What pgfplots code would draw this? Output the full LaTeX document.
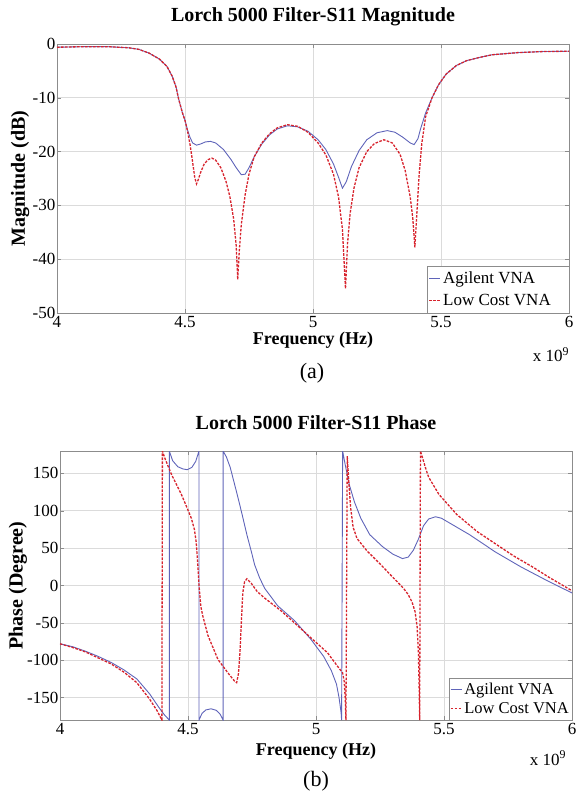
\documentclass[border=0pt]{standalone}
\usepackage{fontspec}
\setmainfont{Liberation Serif}
\usepackage{pgfplots}
\pgfplotsset{compat=1.18}
\definecolor{agil}{RGB}{95,100,185}
\definecolor{lowc}{RGB}{215,35,45}
\pgfplotsset{
  mystyle/.style={
    scale only axis, width=512pt, height=269pt,
    xmin=4, xmax=6,
    xtick={4,4.5,5,5.5,6},
    grid=major, major grid style={draw=black!14, line width=0.6pt},
    axis line style={draw=black!45, line width=0.7pt},
    tick style={draw=black!45},
    tick align=inside, major tick length=4pt,
    ticklabel style={font=\fontsize{17}{20}\selectfont, text=black},
    yticklabel style={inner xsep=1.5pt},
    /pgf/number format/assume math mode=true,
    xlabel style={font=\bfseries\fontsize{18}{21}\selectfont},
    ylabel style={font=\bfseries\fontsize{20}{23}\selectfont},
    title style={font=\bfseries\fontsize{20}{24}\selectfont, at={(axis description cs:0.5,1)}, anchor=center},
    legend style={at={(1,0)}, anchor=south east, draw=black!45, fill=white,
      font=\fontsize{17}{20}\selectfont, inner xsep=2pt,
      cells={anchor=west}},
    legend cell align=left,
    legend image code/.code={\draw[#1] (0pt,0pt) -- (11pt,0pt);},
  },
  agstyle/.style={color=agil, line width=0.9pt},
  lcstyle/.style={color=lowc, line width=1.3pt, dash pattern=on 2.6pt off 1.4pt},
}
\begin{document}
\begin{tikzpicture}
\useasboundingbox (0,0) rectangle (576pt,793pt);
% ---------------- (a) magnitude ----------------
\begin{axis}[mystyle, at={(57pt,480pt)}, anchor=south west,
  ymin=-50, ymax=0, ytick={-50,-40,-30,-20,-10,0},
  title={Lorch 5000 Filter-S11 Magnitude}, title style={yshift=21pt},
  xlabel={Frequency (Hz)}, xlabel style={at={(axis description cs:0.5,0)}, anchor=center, yshift=-27pt},
  ylabel={Magnitude (dB)}, ylabel style={at={(axis description cs:-0.072,0.5)}, anchor=center},
  legend style={inner ysep=4pt, row sep=5pt},
  extra description/.code={
    \node[font=\fontsize{17}{20}\selectfont, anchor=center] at (0.965,-0.156) {x 10\textsuperscript{9}};
    \node[font=\fontsize{22}{26}\selectfont, anchor=center] at (0.498,-0.223) {(a)};
  },
]
\addplot[agstyle] coordinates {
(4.00,-0.6) (4.10,-0.5) (4.20,-0.5) (4.28,-0.7) (4.32,-1.0) (4.36,-1.7) (4.40,-2.8)
(4.43,-4.2) (4.45,-6.0) (4.465,-8.0) (4.475,-10.2) (4.49,-12.8) (4.50,-14.2)
(4.51,-16.0) (4.52,-17.4) (4.53,-18.4) (4.545,-18.8) (4.56,-18.6) (4.58,-18.2)
(4.60,-18.1) (4.62,-18.4) (4.65,-19.6) (4.68,-21.5) (4.70,-23.0) (4.72,-24.3)
(4.735,-24.2) (4.75,-23.0) (4.77,-21.0) (4.80,-18.6) (4.83,-16.9) (4.86,-15.8)
(4.90,-15.2) (4.94,-15.4) (4.98,-16.2) (5.02,-17.8) (5.05,-19.6) (5.08,-22.3)
(5.10,-24.8) (5.115,-26.8) (5.13,-25.6) (5.15,-22.8) (5.18,-19.8) (5.21,-17.8)
(5.25,-16.5) (5.29,-16.1) (5.32,-16.4) (5.35,-17.3) (5.38,-18.4) (5.395,-18.7)
(5.41,-17.6) (5.42,-15.8) (5.44,-12.8) (5.465,-10.0) (5.49,-7.6) (5.52,-5.6)
(5.56,-4.0) (5.60,-3.1) (5.65,-2.5) (5.70,-2.0) (5.80,-1.6) (5.90,-1.4) (6.00,-1.35)
};
\addlegendentry{Agilent VNA}
\addplot[lcstyle] coordinates {
(4.00,-0.6) (4.10,-0.5) (4.20,-0.5) (4.28,-0.7) (4.32,-1.0) (4.36,-1.7) (4.40,-2.8)
(4.43,-4.2) (4.45,-6.0) (4.465,-8.0) (4.475,-10.2) (4.49,-12.8) (4.50,-14.2)
(4.51,-16.2) (4.52,-18.8) (4.53,-22.0) (4.538,-24.8) (4.545,-26.0) (4.552,-25.2)
(4.56,-24.0) (4.575,-22.3) (4.59,-21.5) (4.605,-21.2) (4.62,-21.6) (4.64,-23.0)
(4.66,-25.5) (4.675,-28.3) (4.69,-32.5) (4.70,-37.5) (4.706,-43.8) (4.712,-38.5)
(4.72,-33.5) (4.735,-28.0) (4.75,-24.2) (4.77,-21.0) (4.80,-18.4) (4.83,-16.7)
(4.86,-15.6) (4.90,-15.0) (4.94,-15.3) (4.98,-16.4) (5.02,-18.4) (5.05,-20.6)
(5.08,-24.2) (5.10,-28.5) (5.115,-34.5) (5.127,-45.5) (5.135,-37.0) (5.145,-31.5)
(5.16,-26.8) (5.18,-23.0) (5.21,-20.0) (5.24,-18.5) (5.277,-17.8) (5.31,-18.4)
(5.34,-20.5) (5.36,-23.5) (5.38,-28.5) (5.39,-32.5) (5.398,-37.8) (5.405,-32.0)
(5.415,-24.0) (5.425,-18.5) (5.44,-13.5) (5.465,-10.0) (5.49,-7.6) (5.52,-5.6)
(5.56,-4.0) (5.60,-3.1) (5.65,-2.5) (5.70,-2.0) (5.80,-1.6) (5.90,-1.4) (6.00,-1.35)
};
\addlegendentry{Low Cost VNA\hspace*{14pt}}
\end{axis}
% ---------------- (b) phase ----------------
\begin{axis}[mystyle, at={(60pt,73pt)}, anchor=south west,
  ymin=-180, ymax=180, ytick={-150,-100,-50,0,50,100,150},
  title={Lorch 5000 Filter-S11 Phase}, title style={yshift=22pt},
  xlabel={Frequency (Hz)}, xlabel style={at={(axis description cs:0.5,0)}, anchor=center, yshift=-31pt},
  ylabel={Phase (Degree)}, ylabel style={at={(axis description cs:-0.082,0.5)}, anchor=center},
  legend style={inner ysep=3pt, row sep=2pt, inner xsep=1pt, font=\fontsize{16.5}{19}\selectfont},
  extra description/.code={
    \node[font=\fontsize{17}{20}\selectfont, anchor=center] at (0.953,-0.142) {x 10\textsuperscript{9}};
    \node[font=\fontsize{22}{26}\selectfont, anchor=center] at (0.5,-0.228) {(b)};
  },
]
\addplot[agstyle] coordinates {
(4.00,-78) (4.05,-82) (4.10,-88) (4.15,-95) (4.20,-103) (4.25,-113) (4.30,-125)
(4.35,-145) (4.39,-165) (4.41,-174) (4.427,-180) (4.427,180) (4.44,167) (4.46,159)
(4.48,156) (4.497,155) (4.515,158) (4.53,166) (4.543,180) (4.543,-180) (4.555,-171)
(4.57,-166.5) (4.59,-165) (4.61,-167) (4.625,-172) (4.637,-180) (4.637,180)
(4.65,172) (4.665,158) (4.68,138) (4.695,118) (4.71,97) (4.73,68) (4.75,42)
(4.76,28) (4.78,10) (4.80,-4) (4.85,-27) (4.916,-47) (4.98,-72) (5.03,-95)
(5.06,-114) (5.08,-132) (5.09,-150) (5.098,-170) (5.10,-180) (5.104,180)
(5.115,160) (5.13,135) (5.15,112) (5.175,90) (5.21,68) (5.26,52) (5.30,42)
(5.338,36) (5.36,38) (5.38,47) (5.40,62) (5.42,80) (5.44,89) (5.467,92) (5.49,90)
(5.52,84) (5.56,76) (5.60,68) (5.70,45) (5.80,25) (5.90,7) (6.00,-10)
};
\addlegendentry{Agilent VNA}
\addplot[lcstyle] coordinates {
(4.00,-78) (4.05,-83) (4.10,-89) (4.15,-97) (4.20,-105) (4.25,-116) (4.30,-130)
(4.35,-152) (4.38,-168) (4.398,-180) (4.40,180) (4.41,170) (4.435,149) (4.474,122)
(4.495,105) (4.513,90) (4.525,75) (4.532,58) (4.538,30) (4.543,0) (4.55,-28)
(4.558,-41) (4.578,-67) (4.60,-85) (4.617,-99) (4.656,-117) (4.682,-128) (4.69,-130)
(4.697,-118) (4.703,-90) (4.709,-45) (4.714,-10) (4.721,5) (4.73,9) (4.747,3)
(4.77,-8) (4.80,-17) (4.864,-34) (4.929,-54) (4.98,-70) (5.045,-90) (5.084,-108)
(5.104,-117) (5.11,-128) (5.114,-150) (5.117,-180) (5.122,173) (5.128,140)
(5.135,105) (5.145,78) (5.16,63) (5.20,46) (5.25,29) (5.30,11) (5.34,-3)
(5.36,-12) (5.375,-22) (5.387,-35) (5.395,-55) (5.40,-90) (5.403,-140) (5.405,-180)
(5.408,180) (5.415,172) (5.43,155) (5.44,145) (5.48,122) (5.55,95) (5.63,72)
(5.70,56) (5.77,40) (5.85,24) (5.91,11) (6.00,-7)
};
\addlegendentry{Low Cost VNA}
\end{axis}
\end{tikzpicture}
\end{document}
